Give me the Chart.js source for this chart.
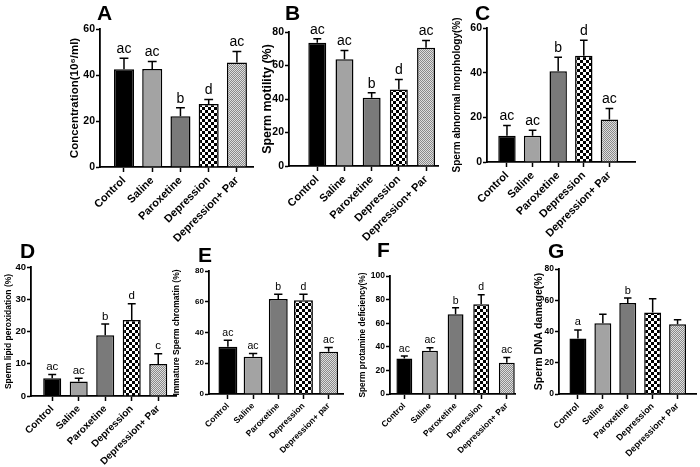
<!DOCTYPE html>
<html>
<head>
<meta charset="utf-8">
<script src="https://cdn.jsdelivr.net/npm/chart.js@4.4.0/dist/chart.umd.min.js"></script>
<style>
body { margin: 0; background: #fff; width: 700px; height: 467px; position: relative; overflow: hidden; }
canvas { position: absolute; }
.tag { position: absolute; font: bold 21px/21px Arial, "Liberation Sans", sans-serif; color: #000; }
</style>
</head>
<body>
<script>
let groups = ["Control", "Saline", "Paroxetine", "Depression", "Depression+ Par"];
let groupsE = ["Control", "Saline", "Paroxetine", "Depression", "Depression+ par"];

let concentration = [42.5, 42.6, 22.1, 27.4, 45.4];
let concentrationErr = [4.8, 3.3, 3.7, 2.0, 4.8];
let motility = [73.6, 63.7, 40.7, 45.6, 70.6];
let motilityErr = [2.4, 5.3, 3.0, 6.0, 4.4];
let morphology = [11.8, 11.8, 40.6, 47.6, 19.0];
let morphologyErr = [4.5, 2.4, 6.3, 6.9, 4.9];
let lipidPerox = [5.5, 4.5, 18.8, 23.6, 9.9];
let lipidPeroxErr = [1.2, 1.0, 3.5, 5.0, 3.2];
let chromatin = [30.7, 24.2, 61.8, 61.0, 27.5];
let chromatinErr = [4.3, 2.2, 3.1, 3.9, 2.8];
let protamine = [30.1, 36.6, 67.6, 76.0, 26.5];
let protamineErr = [2.0, 2.6, 5.4, 8.2, 4.5];
let dnaDamage = [35.5, 45.3, 58.2, 52.2, 44.7];
let dnaDamageErr = [5.5, 5.8, 3.2, 8.8, 2.8];

let marks = ["ac", "ac", "b", "d", "ac"];
let marksD = ["ac", "ac", "b", "d", "c"];
let marksG = ["a", "", "b", "", ""];

Chart.defaults.font.family = 'Arial, "Liberation Sans", sans-serif';
Chart.defaults.color = "#000";

function makePattern(size, draw) {
    let c = document.createElement("canvas");
    c.width = size; c.height = size;
    draw(c.getContext("2d"));
    return c.getContext("2d").createPattern(c, "repeat");
}

let checker = makePattern(6, g => {
    g.fillStyle = "#fff"; g.fillRect(0, 0, 6, 6);
    g.fillStyle = "#000"; g.fillRect(0, 0, 3, 3); g.fillRect(3, 3, 3, 3);
});
let dots = makePattern(2, g => {
    g.fillStyle = "#dedede"; g.fillRect(0, 0, 2, 2);
    g.fillStyle = "#8a8a8a"; g.fillRect(0, 0, 1, 1); g.fillRect(1, 1, 1, 1);
});
let fills = ["#000", "#a3a3a3", "#7a7a7a", checker, dots];

// box: canvas left, top, width, height ; axis: y-axis x, axis end x, top y, zero y
let panels = [
    { tag: "A", tagPos: [97, 2], values: concentration, errors: concentrationErr, marks: marks, labels: groups,
      title: "Concentration(10\u2076/ml)", yMax: 60, yStep: 20,
      box: [55, 20, 205, 227], axis: [100, 253, 29, 167], xMin: -0.85, xMax: 4.57,
      titleX: 75, titleFont: 11.5, tickFont: 10.5, xFont: 11, markFont: 14, barPct: 0.71 },
    { tag: "B", tagPos: [285, 2], values: motility, errors: motilityErr, marks: marks, labels: groups,
      title: "Sperm motility (%)", yMax: 80, yStep: 20,
      box: [258, 20, 185, 227], axis: [289, 438, 32, 166], xMin: -1.04, xMax: 4.44,
      titleX: 268, titleFont: 12.5, tickFont: 10.5, xFont: 11, markFont: 14, barPct: 0.66 },
    { tag: "C", tagPos: [475, 2], values: morphology, errors: morphologyErr, marks: marks, labels: groups,
      title: "Sperm abnormal morphology(%)", yMax: 60, yStep: 20,
      box: [445, 15, 200, 232], axis: [487, 635, 28, 162], xMin: -0.78, xMax: 5.0,
      titleX: 457, titleFont: 10, tickFont: 10.5, xFont: 11, markFont: 14, barPct: 0.68 },
    { tag: "D", tagPos: [20, 240], values: lipidPerox, errors: lipidPeroxErr, marks: marksD, labels: groups,
      title: "Sperm lipid peroxidation (%)", yMax: 40, yStep: 10,
      box: [0, 255, 180, 212], axis: [31, 176, 267, 396], xMin: -0.8, xMax: 4.67,
      titleX: 9, titleFont: 8.5, tickFont: 9.5, xFont: 10, markFont: 11.5, barPct: 0.68 },
    { tag: "E", tagPos: [198, 244], values: chromatin, errors: chromatinErr, marks: marks, labels: groupsE,
      title: "Immature Sperm chromatin (%)", yMax: 80, yStep: 20,
      box: [170, 255, 178, 212], axis: [209, 343, 271, 394], xMin: -0.75, xMax: 4.57,
      titleX: 177, titleFont: 8.5, tickFont: 8, xFont: 8.5, markFont: 10.5, barPct: 0.75 },
    { tag: "F", tagPos: [377, 239], values: protamine, errors: protamineErr, marks: marks, labels: groups,
      title: "Sperm protamine deficiency(%)", yMax: 100, yStep: 20,
      box: [348, 255, 172, 212], axis: [390, 515, 276, 394], xMin: -0.56, xMax: 4.32,
      titleX: 363, titleFont: 8.4, tickFont: 8.5, xFont: 8.5, markFont: 10.5, barPct: 0.62 },
    { tag: "G", tagPos: [548, 240], values: dnaDamage, errors: dnaDamageErr, marks: marksG, labels: groups,
      title: "Sperm DNA damage(%)", yMax: 80, yStep: 20,
      box: [522, 255, 178, 212], axis: [559, 696, 269, 394], xMin: -0.76, xMax: 4.74,
      titleX: 539, titleFont: 10.5, tickFont: 8.5, xFont: 9, markFont: 11, barPct: 0.68 }
];

function errorBars(p) {
    return {
        id: "errorBars",
        afterDatasetsDraw(chart) {
            let ctx = chart.ctx;
            let y = chart.scales.y;
            ctx.save();
            ctx.strokeStyle = "#000";
            ctx.fillStyle = "#000";
            ctx.lineWidth = 1.5;
            ctx.font = p.markFont + 'px Arial, "Liberation Sans", sans-serif';
            ctx.textAlign = "center";
            ctx.textBaseline = "bottom";
            chart.getDatasetMeta(0).data.forEach((bar, i) => {
                let top = y.getPixelForValue(p.values[i] + p.errors[i]);
                let half = bar.width * 0.22;
                ctx.beginPath();
                ctx.moveTo(bar.x, bar.y);
                ctx.lineTo(bar.x, top);
                ctx.moveTo(bar.x - half, top);
                ctx.lineTo(bar.x + half, top);
                ctx.stroke();
                if (p.marks[i]) ctx.fillText(p.marks[i], bar.x, top - 2);
            });
            ctx.restore();
        }
    };
}

function makeChart(p) {
    let [cx, cy, cw, ch] = p.box;
    let [x0, x1, yTop, yBottom] = p.axis;

    let c = document.createElement("canvas");
    c.width = cw; c.height = ch;
    c.style.left = cx + "px"; c.style.top = cy + "px";
    document.body.appendChild(c);

    let tag = document.createElement("div");
    tag.className = "tag";
    tag.textContent = p.tag;
    tag.style.left = p.tagPos[0] + "px"; tag.style.top = p.tagPos[1] + "px";
    document.body.appendChild(tag);

    let padLeft = p.titleX - p.titleFont * 1.2 / 2 - cx;
    let yWidth = x0 - cx - padLeft;
    let xHeight = cy + ch - yBottom;

    new Chart(c, {
        type: "bar",
        data: {
            datasets: [{
                data: p.values.map((v, i) => ({ x: i, y: v })),
                backgroundColor: fills,
                borderColor: "#000",
                borderWidth: 1.5,
                borderSkipped: "start",
                barPercentage: p.barPct,
                categoryPercentage: 1
            }]
        },
        options: {
            responsive: false,
            animation: false,
            devicePixelRatio: 1,
            layout: { padding: { left: padLeft, top: yTop - cy, right: cx + cw - x1, bottom: 0 } },
            plugins: { legend: { display: false }, tooltip: { enabled: false } },
            scales: {
                x: {
                    type: "linear",
                    min: p.xMin,
                    max: p.xMax,
                    offset: false,
                    grid: { offset: false, drawOnChartArea: false, color: "#000", tickLength: 5, tickWidth: 1.5 },
                    border: { color: "#000", width: 1.8 },
                    ticks: {
                        stepSize: 1, includeBounds: false, autoSkip: false,
                        minRotation: 45, maxRotation: 45, padding: 2,
                        font: { size: p.xFont, weight: "bold" },
                        callback: v => p.labels[v]
                    },
                    afterBuildTicks: s => {
                        s.ticks = s.ticks.filter(t => Number.isInteger(t.value) && t.value >= 0 && t.value < p.labels.length);
                    },
                    afterFit: s => { s.height = xHeight; }
                },
                y: {
                    min: 0,
                    max: p.yMax,
                    ticks: { stepSize: p.yStep, padding: 1, font: { size: p.tickFont, weight: "bold" } },
                    grid: { drawOnChartArea: false, color: "#000", tickLength: 4, tickWidth: 1.5 },
                    border: { color: "#000", width: 1.8 },
                    title: { display: true, text: p.title, padding: 0, font: { size: p.titleFont, weight: "bold" } },
                    afterFit: s => { s.width = yWidth; }
                }
            }
        },
        plugins: [errorBars(p)]
    });
}

panels.forEach(makeChart);
</script>
</body>
</html>
